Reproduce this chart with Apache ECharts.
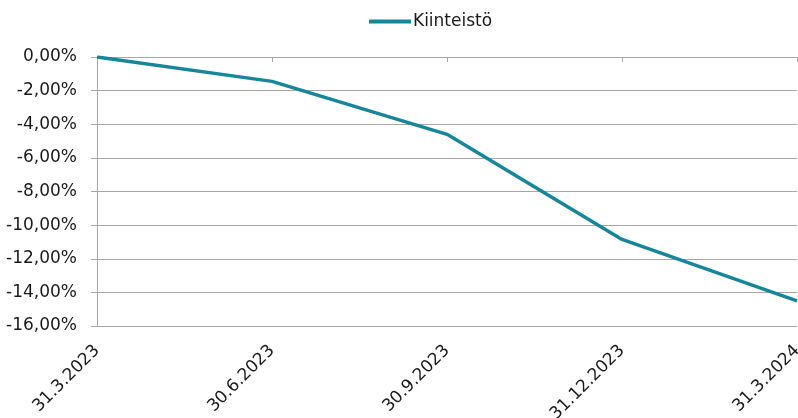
<!DOCTYPE html>
<html>
<head>
<meta charset="utf-8">
<script src="https://cdn.jsdelivr.net/npm/echarts@6/dist/echarts.min.js"></script>
<style>
  html, body { margin: 0; padding: 0; background: #fff; }
  #chart { width: 798px; height: 418px; }
</style>
</head>
<body>
<div id="chart"></div>
<script>
// data
var categories = ['31.3.2023', '30.6.2023', '30.9.2023', '31.12.2023', '31.3.2024']
var seriesName = 'Kiinteistö'
var values = [0, -1.45, -4.6, -10.85, -14.5]
var yMin = -16
var yMax = 0
var yStep = 2

var chart = echarts.init(document.getElementById('chart'))
var font = '"DejaVu Sans", sans-serif'

chart.setOption({
  animation: false,
  textStyle: { fontFamily: font },
  legend: {
    data: [seriesName],
    left: 364,
    top: 8,
    icon: 'rect',
    itemWidth: 42,
    itemHeight: 4,
    itemGap: 4,
    textStyle: { fontSize: 17, color: '#1a1a1a', fontFamily: font, padding: [0, 0, 0, -3] }
  },
  grid: { left: 97, right: 1, top: 57, bottom: 92, outerBoundsMode: 'none' },
  xAxis: [
    {
      type: 'category',
      data: categories,
      boundaryGap: false,
      position: 'bottom',
      axisLine: { show: false },
      axisTick: { show: false },
      axisLabel: { rotate: 45, fontSize: 17, color: '#1a1a1a', margin: 22, fontFamily: font, interval: 0 }
    },
    {
      type: 'category',
      data: categories,
      boundaryGap: false,
      position: 'top',
      axisLine: { show: true, lineStyle: { color: '#a6a6a6', width: 1 } },
      axisTick: { show: true, inside: true, length: 5, lineStyle: { color: '#a6a6a6' } },
      axisLabel: { show: false }
    }
  ],
  yAxis: {
    type: 'value',
    min: yMin,
    max: yMax,
    interval: yStep,
    axisLine: { show: true, lineStyle: { color: '#a6a6a6' } },
    axisTick: { show: true, length: 6, lineStyle: { color: '#a6a6a6' } },
    splitLine: { show: true, lineStyle: { color: '#a6a6a6', width: 1 } },
    axisLabel: {
      fontSize: 17,
      color: '#1a1a1a',
      margin: 20,
      fontFamily: font,
      formatter: function (v) {
        var s = Math.abs(v).toFixed(2).replace('.', ',') + '%'
        return v < 0 ? '-' + s : s
      }
    }
  },
  series: [
    {
      name: seriesName,
      type: 'line',
      data: values,
      showSymbol: false,
      symbol: 'none',
      lineStyle: { color: '#17869a', width: 3.5 },
      itemStyle: { color: '#17869a' }
    }
  ]
})
</script>
</body>
</html>
